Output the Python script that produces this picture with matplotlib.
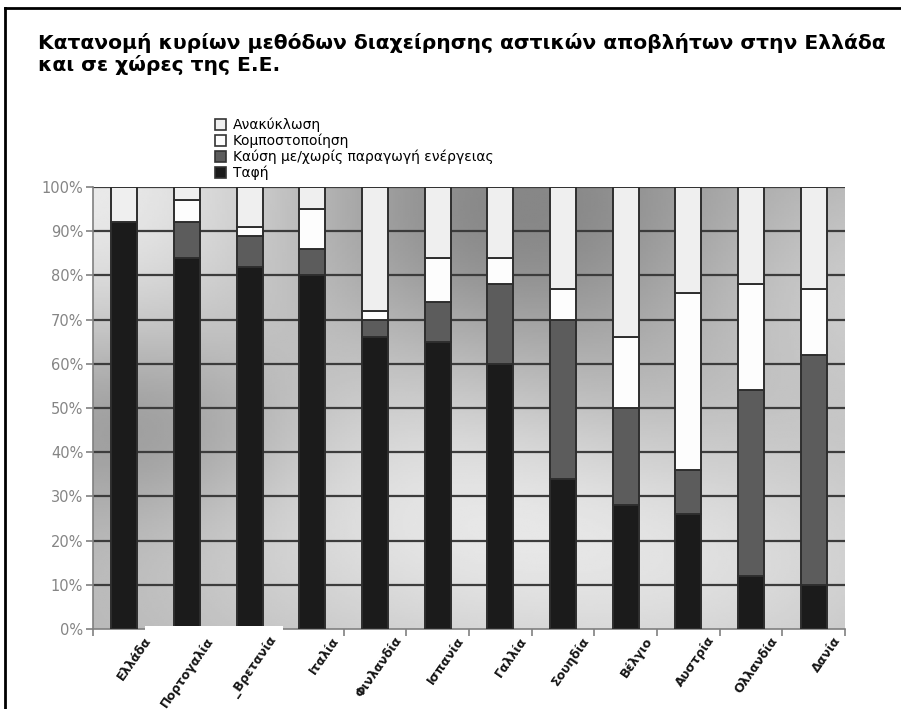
import numpy as np
import matplotlib
matplotlib.use("Agg")
import matplotlib.pyplot as plt
from matplotlib.patches import Patch, Rectangle
from matplotlib.lines import Line2D

# ---------------------------------------------------------------------------
# Data (percent of municipal waste)
# ---------------------------------------------------------------------------
countries = ["Ελλάδα", "Πορτογαλία", "_Βρετανία", "Ιταλία", "Φινλανδία",
             "Ισπανία", "Γαλλία", "Σουηδία", "Βέλγιο", "Αυστρία",
             "Ολλανδία", "Δανία"]
landfill = [92, 84, 82, 80, 66, 65, 60, 34, 28, 26, 12, 10]
incineration = [0, 8, 7, 6, 4, 9, 18, 36, 22, 10, 42, 52]
composting = [0, 5, 2, 9, 2, 10, 6, 7, 16, 40, 24, 15]
recycling = [8, 3, 9, 5, 28, 16, 16, 23, 34, 24, 22, 23]

series_labels = ["Ταφή", "Καύση με/χωρίς παραγωγή ενέργειας",
                 "Κομποστοποίηση", "Ανακύκλωση"]
series_colors = ["#1b1b1b", "#5c5c5c", "#fdfdfd", "#efefef"]

TITLE = ("Κατανομή κυρίων μεθόδων διαχείρησης αστικών αποβλήτων στην Ελλάδα\n"
         "και σε χώρες της Ε.Ε.")

W, H = 901, 709


def main() -> None:
    fig = plt.figure(figsize=(W / 100, H / 100), dpi=100)
    fig.patch.set_facecolor("white")

    ax = fig.add_axes([93 / W, 1 - 629 / H, 752 / W, 442 / H])
    n = len(countries)
    x = np.arange(n)

    # metallic grey background of the plot area
    gx, gy = np.meshgrid(np.linspace(0, 1, 300), np.linspace(0, 1, 240))
    blobs = [(0.0, 1.0, 0.25, 0.22), (0.45, 0.3, 0.28, 0.18),
             (0.85, 0.15, 0.25, 0.12), (1.0, 0.75, 0.2, 0.12),
             (0.55, 0.95, 0.22, -0.2), (0.08, 0.45, 0.15, -0.15),
             (0.75, 0.55, 0.2, -0.08)]
    bg = np.full_like(gx, 0.70)
    for cx, cy, r, amp in blobs:
        bg += amp * np.exp(-((gx - cx) ** 2 + (gy - cy) ** 2) / (2 * r * r))
    bg = np.clip(bg, 0.45, 0.95)
    ax.imshow(bg, cmap="gray", vmin=0, vmax=1, origin="lower", aspect="auto",
              extent=(-0.5, n - 0.5, 0, 100), zorder=0, interpolation="bilinear")

    ax.set_xlim(-0.5, n - 0.5)
    ax.set_ylim(0, 100)

    # horizontal grid
    for yv in range(10, 101, 10):
        ax.axhline(yv, color="#3c3c3c", linewidth=1.6, zorder=1)

    bottom = np.zeros(n)
    for vals, lab, col in zip([landfill, incineration, composting, recycling],
                              series_labels, series_colors):
        vals = np.array(vals, dtype=float)
        ax.bar(x, vals, width=0.42, bottom=bottom, color=col,
               edgecolor="#2e2e2e", linewidth=1.4, label=lab, zorder=3)
        bottom += vals

    # axes styling
    for side in ["top", "right"]:
        ax.spines[side].set_visible(False)
    for side in ["left", "bottom"]:
        ax.spines[side].set_color("#808080")
        ax.spines[side].set_linewidth(1.2)

    ax.set_yticks(range(0, 101, 10))
    ax.set_yticklabels([f"{v}%" for v in range(0, 101, 10)],
                       color="#858585", fontsize=10.5)
    ax.tick_params(axis="y", direction="out", length=5, color="#808080",
                   width=1.2, pad=2)

    ax.set_xticks(np.arange(-0.5, n, 1.0))
    ax.set_xticklabels([])
    ax.tick_params(axis="x", direction="out", length=5, color="#808080",
                   width=1.2)

    # white patch over the axis line below two bars
    fig.add_artist(Rectangle((145 / W, 1 - 637 / H), 138 / W, 11 / H,
                             transform=fig.transFigure, facecolor="white",
                             edgecolor="none", zorder=1))

    # country labels, on top of the patch
    for i, name in enumerate(countries):
        disp = ax.transData.transform((i + 0.3, -1.2))
        fx, fy = fig.transFigure.inverted().transform(disp)
        fig.text(fx, fy, name, rotation=55, ha="right", va="top",
                 rotation_mode="anchor", fontsize=9, color="#151515",
                 fontweight="bold", zorder=2)

    # legend (reverse stacking order, as in the reference)
    handles = [Patch(facecolor=c, edgecolor="#333333", linewidth=1.2, label=l)
               for c, l in zip(series_colors[::-1], series_labels[::-1])]
    fig.legend(handles=handles, loc="upper left",
               bbox_to_anchor=(208 / W, 1 - 111 / H), frameon=False,
               fontsize=10, handlelength=0.8, handleheight=0.8,
               handletextpad=0.5, labelspacing=0.1, borderpad=0)

    # title
    fig.text(38 / W, 1 - 33 / H, TITLE, ha="left", va="top", fontsize=14.6,
             fontweight="bold", linespacing=1.15, color="black")

    # page frame (left and top)
    fig.add_artist(Line2D([5 / W, 5 / W], [0, 1 - 8 / H], color="black",
                          linewidth=2, transform=fig.transFigure))
    fig.add_artist(Line2D([5 / W, 1], [1 - 8 / H, 1 - 8 / H], color="black",
                          linewidth=2, transform=fig.transFigure))

    fig.savefig("out.png", dpi=100)


if __name__ == "__main__":
    main()
